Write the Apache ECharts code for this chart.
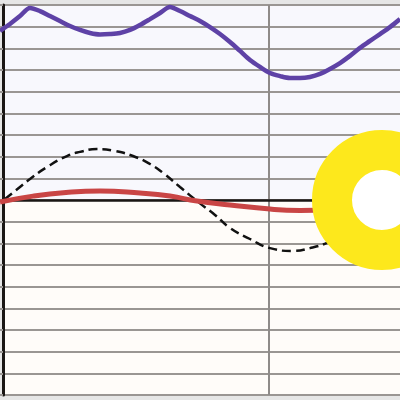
<!DOCTYPE html>
<html>
<head>
<meta charset="utf-8">
<script src="https://cdn.jsdelivr.net/npm/echarts@6/dist/echarts.min.js"></script>
<style>html,body{margin:0;padding:0;}#c{width:400px;height:400px;}</style>
</head>
<body>
<div id="c"></div>
<script>
// x positions (axis units)
const purpleX = [-3,7,17,27,37,47,57,67,77,87,97,107,117,127,137,147,157,167,177,187,197,207,217,227,237,247,257,267,277,287,297,307,317,327,337,347,357,367,377,387,397];
const purpleY = [78.0,81.2,84.9,88.6,87.2,84.9,82.6,80.3,78.5,77.1,76.4,76.6,77.1,78.5,80.8,83.5,86.3,89.1,87.2,84.9,82.6,79.8,76.6,72.9,68.8,64.6,61.4,58.6,57.2,56.3,56.3,56.8,58.2,60.5,63.2,66.5,70.2,73.4,76.6,79.8,83.5];
const dashX = [2,17,27,44,64,77,94,112,130,147,160,177,194,212,227,247,267,290,307,324,342,362,382,402];
const dashY = [0.5,6.0,9.7,15.2,20.3,22.2,23.5,22.6,20.3,16.6,12.5,6.0,-0.5,-6.9,-12.9,-18.0,-22.2,-23.5,-22.2,-19.8,-15.7,-9.7,-2.8,3.2];
const redX = [-3,30,63,97,137,167,194,227,267,297,327,357,397];
const redY = [-0.9,1.8,3.5,4.2,3.2,1.8,-0.5,-2.3,-4.2,-4.8,-4.6,-3.7,-2.3];
const ringPoint = [379, 0];
const yTicks = {min: -90, max: 90, step: 10};
const xTicks = {min: 0, max: 532, step: 266};

const zip = (xs, ys) => xs.map((x, i) => [x, ys[i]]);
const areaColors = [];
for (let i = 0; i < 9; i++) areaColors.push('#fffcf9');
for (let i = 0; i < 9; i++) areaColors.push('#f8f8fd');

const chart = echarts.init(document.getElementById('c'));
chart.setOption({
  backgroundColor: '#e6e6e6',
  animation: false,
  grid: {left: 3, top: 5, width: 532, height: 390, containLabel: false, outerBoundsMode: 'none'},
  xAxis: {
    type: 'value', min: xTicks.min, max: xTicks.max, interval: xTicks.step,
    axisLine: {show: true, onZero: true, lineStyle: {color: '#1a1614', width: 2.5}},
    axisTick: {show: false}, axisLabel: {show: false},
    splitLine: {show: true, lineStyle: {color: '#8f8b89', width: 2}}
  },
  yAxis: {
    type: 'value', min: yTicks.min, max: yTicks.max, interval: yTicks.step,
    axisLine: {show: true, onZero: true, lineStyle: {color: '#1a1614', width: 3}},
    axisTick: {show: true, length: 3, lineStyle: {color: '#9a9693', width: 2}},
    axisLabel: {show: false},
    splitLine: {show: true, lineStyle: {color: '#9a9693', width: 2}},
    splitArea: {show: true, areaStyle: {color: areaColors}}
  },
  series: [
    {type: 'line', data: zip(purpleX, purpleY), symbol: 'none', smooth: 0.3, clip: false,
     lineStyle: {color: '#5e42a6', width: 4.5}, z: 3},
    {type: 'line', data: zip(dashX, dashY), symbol: 'none', smooth: true,
     lineStyle: {color: '#111111', width: 2.5, type: [9, 5]}, z: 3},
    {type: 'line', data: zip(redX, redY), symbol: 'none', smooth: true, clip: false,
     lineStyle: {color: '#c94545', width: 5}, z: 4},
    {type: 'scatter', data: [ringPoint], symbol: 'circle', symbolSize: 100, clip: false,
     itemStyle: {color: '#ffffff', borderColor: '#fde81c', borderWidth: 40, opacity: 1}, z: 10}
  ]
});
</script>
</body>
</html>
